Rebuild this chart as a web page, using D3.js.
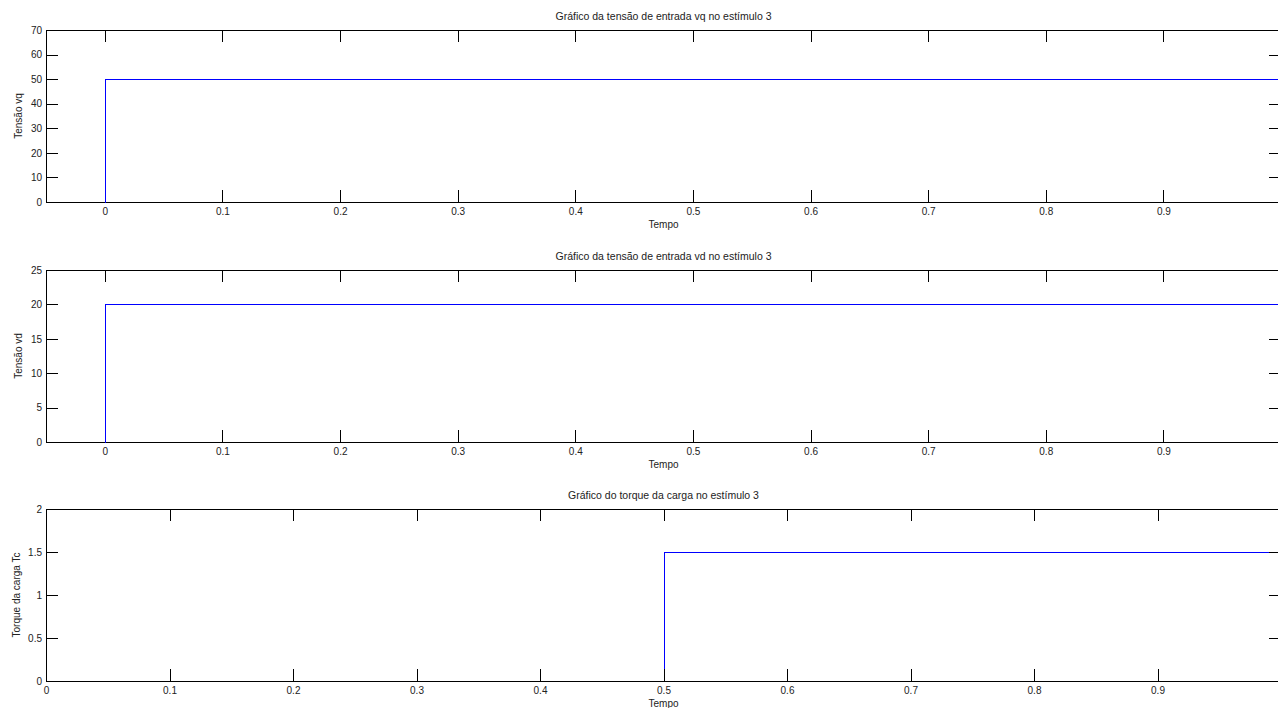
<!DOCTYPE html>
<html><head><meta charset="utf-8">
<script src="https://cdn.jsdelivr.net/npm/d3@7"></script>
<style>
body{margin:0;background:#fff;}
svg{display:block;font-family:"Liberation Sans",Arial,sans-serif;}
</style></head>
<body><svg id="c" width="1278" height="708"></svg>
<script>
// ---- data ----
const titles = ["Gráfico da tensão de entrada vq no estímulo 3","Gráfico da tensão de entrada vd no estímulo 3","Gráfico do torque da carga no estímulo 3"];
const yLabels = ["Tensão vq","Tensão vd","Torque da carga Tc"];
const xLabel = "Tempo";
const tVq = [0, 0, 1];
const vq = [0, 50, 50];
const tVd = [0, 0, 1];
const vd = [0, 20, 20];
const tTc = [0, 0.5, 0.5, 1];
const tc = [0, 0, 1.5, 1.5];
const xTicks = [0, 0.1, 0.2, 0.3, 0.4, 0.5, 0.6, 0.7, 0.8, 0.9];
const yTicksVq = [0, 10, 20, 30, 40, 50, 60, 70];
const yTicksVd = [0, 5, 10, 15, 20, 25];
const yTicksTc = [0, 0.5, 1, 1.5, 2];

// ---- layout ----
const svg = d3.select("#c");
const L = 46, R = 1281;
const panels = [
  {top:30, bot:202, xd:[-0.05,1], yd:[0,70], yt:yTicksVq, t:tVq, v:vq, title:titles[0], yl:yLabels[0], ylx:22, lineOnTop:true},
  {top:270, bot:442, xd:[-0.05,1], yd:[0,25], yt:yTicksVd, t:tVd, v:vd, title:titles[1], yl:yLabels[1], ylx:22, lineOnTop:true},
  {top:509, bot:681, xd:[0,1], yd:[0,2], yt:yTicksTc, t:tTc, v:tc, title:titles[2], yl:yLabels[2], ylx:20, lineOnTop:false}
];
const fmt = d => String(d);
panels.forEach(p => {
  const x = d3.scaleLinear().domain(p.xd).range([L, R]);
  const y = d3.scaleLinear().domain(p.yd).range([p.bot, p.top]);
  const g = svg.append("g");
  const line = d3.line().x((d,i)=>x(p.t[i])).y(d=>y(d));
  const drawLine = () => g.append("path").datum(p.v).attr("d", line).attr("transform","translate(0.5,0.5)").attr("fill","none").attr("stroke","#0000ff").attr("stroke-width",1).attr("shape-rendering","crispEdges");
  if (!p.lineOnTop) drawLine();
  const axStyle = sel => { sel.select(".domain").remove(); sel.selectAll("line").attr("stroke","#000").attr("shape-rendering","crispEdges"); sel.selectAll("text").attr("fill","#222").style("font-size","10px").style("font-family","Liberation Sans, Arial, sans-serif"); };
  const xt = xTicks.filter(v => v > p.xd[0] - 1e-9);
  g.append("g").attr("transform",`translate(0,${p.bot})`).call(d3.axisBottom(x).tickValues(xt).tickFormat(fmt).tickSizeInner(-12).tickSizeOuter(0).tickPadding(6)).call(axStyle);
  g.append("g").attr("transform",`translate(0,${p.top})`).call(d3.axisTop(x).tickValues(xt).tickFormat("").tickSizeInner(-12).tickSizeOuter(0)).call(axStyle);
  g.append("g").attr("transform",`translate(${L},0)`).call(d3.axisLeft(y).tickValues(p.yt).tickFormat(fmt).tickSizeInner(-12).tickSizeOuter(0).tickPadding(4)).call(axStyle);
  g.append("g").attr("transform",`translate(${R},0)`).call(d3.axisRight(y).tickValues(p.yt).tickFormat("").tickSizeInner(-12).tickSizeOuter(0)).call(axStyle);
  g.append("rect").attr("x",L+0.5).attr("y",p.top+0.5).attr("width",R-L).attr("height",p.bot-p.top).attr("fill","none").attr("stroke","#000");
  if (p.lineOnTop) drawLine();
  g.append("text").attr("x",(L+R)/2).attr("y",p.top-10).attr("text-anchor","middle").style("font-size","10.5px").attr("fill","#222").text(p.title);
  g.append("text").attr("x",(L+R)/2).attr("y",p.bot+26).attr("text-anchor","middle").style("font-size","10px").attr("fill","#222").text(xLabel);
  g.append("text").attr("transform",`translate(${p.ylx},${(p.top+p.bot)/2}) rotate(-90)`).attr("text-anchor","middle").style("font-size","10px").attr("fill","#222").text(p.yl);
});
</script></body></html>
